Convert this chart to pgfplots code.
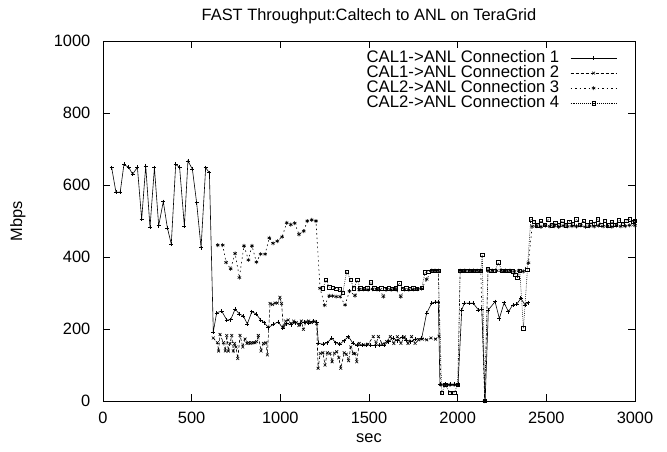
\documentclass[border=0pt]{standalone}
\usepackage{fontspec}
\setmainfont{Liberation Sans}
\usepackage{pgfplots}
\pgfplotsset{compat=1.18}
\begin{document}
\fontsize{16.4}{19}\selectfont
\begin{tikzpicture}
\path[use as bounding box] (-103pt,-50pt) rectangle (564pt,401pt);
\begin{axis}[
 at={(0pt,0pt)}, anchor=south west,
 scale only axis, width=532pt, height=360pt,
 xmin=0,xmax=3000,ymin=0,ymax=1000,
 xtick={0,500,...,3000}, ytick={0,200,...,1000},
 minor tick num=0,
 tick align=inside, major tick length=7pt,
 /pgf/number format/assume math mode=true,
 /pgf/number format/1000 sep={},
 xticklabel style={yshift=-5pt}, yticklabel style={xshift=-7pt},
 title={FAST Throughput:Caltech to ANL on TeraGrid},
 title style={at={(axis description cs:0.5,1.053)},anchor=center},
 xlabel={sec}, ylabel={Mbps},
 xlabel style={at={(axis description cs:0.5,-0.103)},anchor=center},
 ylabel style={at={(axis description cs:-0.16,0.5)},anchor=center},
 axis line style={line width=0.8pt},
 every tick/.style={black, line width=0.8pt},
 legend style={at={(0.972,0.978)},anchor=north east,draw=none,fill=none,row sep=1pt,column sep=11pt,
   font=\fontsize{16.7}{19}\selectfont,
   nodes={inner sep=0pt, text height=11.5pt, text depth=2.5pt}},
 legend cell align=right, legend plot pos=right,
 legend image code/.code={\draw[mark repeat=2,mark phase=2] plot coordinates {(0pt,0pt) (23pt,0pt) (46pt,0pt)};},
 every axis plot/.append style={black, line width=0.6pt, mark options={solid}},
]
% Connection 1
\addplot[mark=+, mark size=2pt] coordinates {
(49,648) (73,580) (97,580) (118,657) (145,649) (167,630) (194,649) (218,505) (241,653) (265,482)
(290,648) (314,487) (340,554) (363,481) (385,436) (410,657) (432,649) (459,485) (479,667) (504,644)
(528,551) (553,426) (579,648) (600,634) (622,192) (641,245) (669,250) (698,225) (720,226) (745,255)
(769,242) (792,236) (814,214) (839,248) (864,242) (889,225) (908,218) (933,204) (961,213) (989,220)
(1013,202) (1035,215) (1060,212) (1085,218) (1110,215) (1135,220) (1160,216) (1185,222) (1205,220)
(1215,160) (1240,158) (1265,162) (1290,175) (1312,162) (1335,158) (1360,168) (1384,179) (1410,160)
(1435,155) (1460,155) (1485,156) (1510,155) (1535,154) (1560,156) (1585,155) (1610,165) (1635,175)
(1660,168) (1685,178) (1710,170) (1735,165) (1760,172) (1797,174) (1825,244) (1854,272) (1872,275)
(1891,275) (1900,46) (1929,46) (1957,46) (1980,46) (2002,46) (2023,253) (2038,272) (2066,272)
(2087,272) (2117,253) (2136,255) (2155,0) (2173,253) (2211,276) (2235,229) (2262,273) (2286,248)
(2311,267) (2333,269) (2356,285) (2380,267) (2399,273)
};
\addlegendentry{CAL1->ANL Connection 1}
% Connection 2
\addplot[mark=x, mark size=2pt, dash pattern=on 3pt off 2pt] coordinates {
(622,175) (645,162) (652,139) (660,185) (679,162) (690,139) (698,182) (707,139) (716,160) (726,182)
(735,139) (742,160) (750,150) (760,118) (773,182) (788,150) (801,172) (812,160) (820,162) (830,160)
(839,162) (850,162) (857,162) (866,165) (876,182) (891,139) (905,160) (919,162) (927,128) (942,271)
(956,268) (970,272) (983,272) (998,288) (1007,271) (1017,206) (1030,222) (1045,225) (1060,215)
(1075,222) (1090,218) (1105,210) (1118,222) (1130,199) (1145,220) (1160,222) (1175,218) (1190,221)
(1205,215) (1213,91) (1225,132) (1240,134) (1252,100) (1265,134) (1280,132) (1292,109) (1305,133)
(1318,137) (1330,120) (1341,91) (1360,134) (1372,130) (1385,112) (1397,150) (1412,132) (1421,132)
(1431,109) (1445,160) (1470,156) (1495,158) (1524,179) (1540,160) (1553,179) (1575,158) (1600,165)
(1620,179) (1640,160) (1660,179) (1680,160) (1700,178) (1720,160) (1740,179) (1760,160) (1780,170)
(1800,172) (1825,170) (1850,175) (1875,172) (1895,180)
};
\addlegendentry{CAL1->ANL Connection 2}
% Connection 3
\addplot[mark=asterisk, mark size=2pt, dash pattern=on 1.5pt off 3pt] coordinates {
(647,433) (675,433) (694,385) (720,367) (745,410) (769,343) (795,431) (820,392) (840,431) (865,386)
(889,408) (914,408) (938,453) (959,438) (983,444) (1010,456) (1036,495) (1059,490) (1081,494)
(1105,463) (1132,472) (1152,500) (1177,503) (1201,500) (1224,313) (1250,266) (1276,292) (1295,292)
(1315,290) (1337,290) (1365,267) (1390,305) (1421,293) (1445,310) (1470,310) (1495,309) (1520,311)
(1545,310) (1560,309) (1581,290) (1600,310) (1625,309) (1650,311) (1679,290) (1700,310) (1725,309)
(1750,310) (1775,311) (1797,312) (1825,338) (1854,362) (1872,362) (1891,362) (1905,45) (1930,45)
(1957,45) (1980,45) (2002,45) (2014,362) (2040,362) (2066,362) (2089,362) (2110,362) (2130,362)
(2152,0) (2171,362) (2195,362) (2220,362) (2245,362) (2270,362) (2295,362) (2320,360) (2345,362)
(2370,360) (2399,384) (2420,485) (2445,486) (2470,484) (2495,487) (2520,485) (2545,486) (2570,484)
(2595,487) (2620,485) (2645,486) (2670,485) (2695,487) (2720,484) (2745,486) (2770,485) (2795,487)
(2820,485) (2845,486) (2870,484) (2895,487) (2920,485) (2945,486) (2970,488) (3000,488)
};
\addlegendentry{CAL2->ANL Connection 3}
% Connection 4
\addplot[mark=square, mark size=1.7pt, dash pattern=on 0.7pt off 1.2pt] coordinates {
(1239,313) (1258,336) (1276,316) (1295,314) (1315,312) (1337,310) (1352,300) (1374,359) (1397,336)
(1415,313) (1434,336) (1450,313) (1470,312) (1490,313) (1510,330) (1530,313) (1550,312) (1570,313)
(1590,312) (1610,313) (1630,311) (1650,313) (1670,327) (1690,312) (1710,313) (1730,311) (1750,313)
(1770,312) (1797,314) (1816,357) (1835,359) (1854,362) (1872,362) (1891,362) (1910,23) (1930,45)
(1957,23) (1980,23) (2000,45) (2014,362) (2030,362) (2050,362) (2070,362) (2090,362) (2110,362)
(2130,362) (2139,406) (2152,0) (2171,367) (2190,362) (2210,362) (2230,385) (2250,362) (2270,362)
(2290,362) (2310,360) (2324,350) (2337,343) (2350,362) (2371,202) (2393,364) (2412,505) (2430,498)
(2450,488) (2470,500) (2490,490) (2510,505) (2530,488) (2550,495) (2570,490) (2590,500) (2610,488)
(2630,498) (2650,492) (2670,505) (2690,490) (2710,500) (2730,488) (2750,497) (2770,492) (2790,505)
(2810,490) (2830,500) (2850,488) (2870,498) (2890,490) (2910,502) (2930,492) (2950,500) (2970,505)
(2990,498) (3000,500)
};
\addlegendentry{CAL2->ANL Connection 4}
\end{axis}
\end{tikzpicture}
\end{document}
